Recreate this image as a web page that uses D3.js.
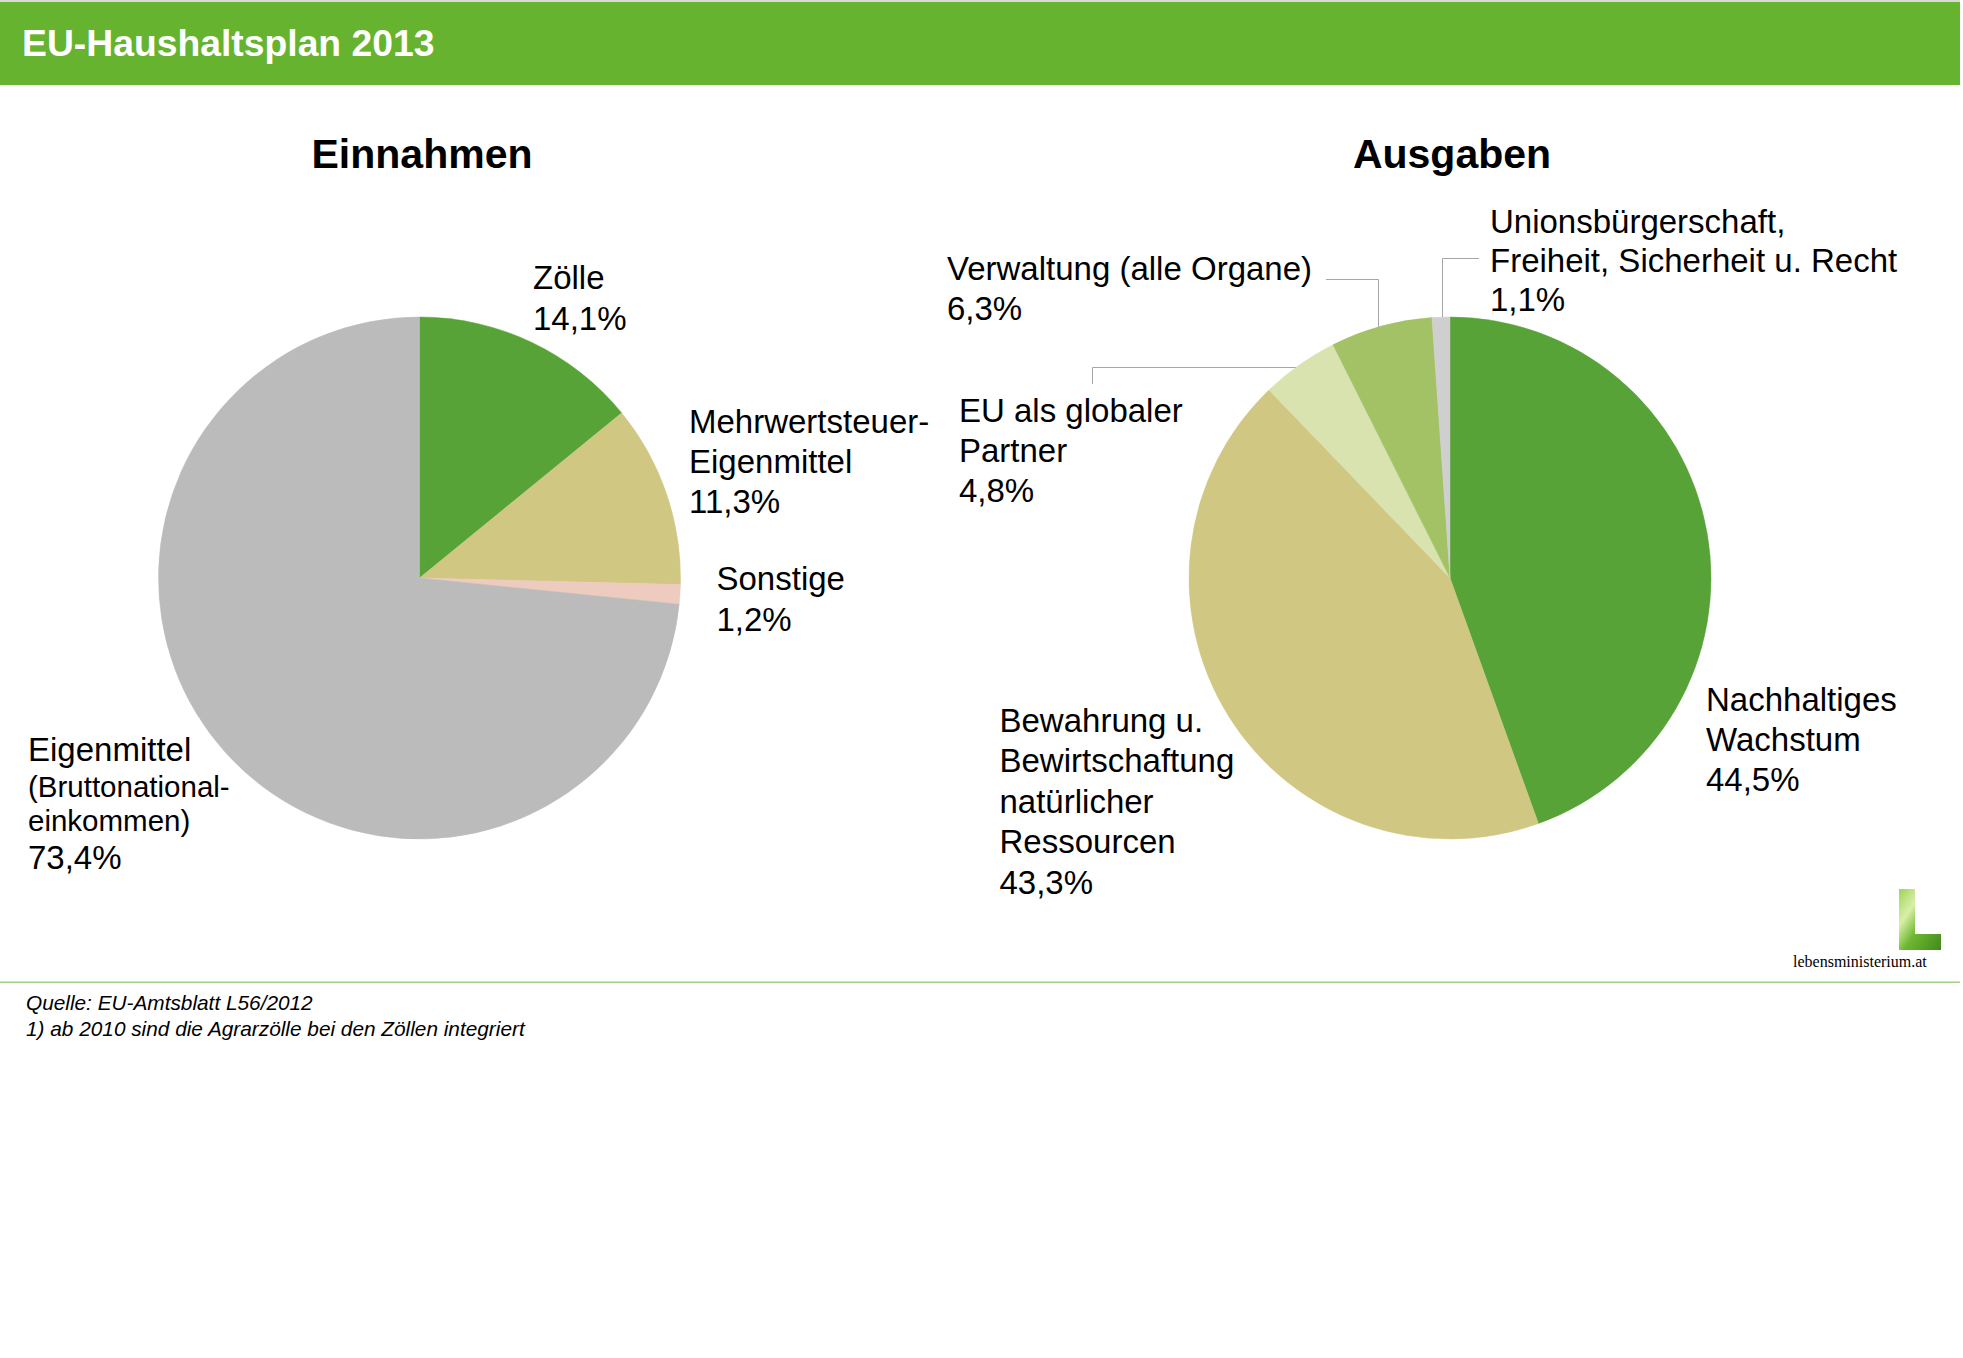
<!DOCTYPE html>
<html>
<head>
<meta charset="utf-8">
<script src="https://cdn.jsdelivr.net/npm/d3@7"></script>
<style>
  html, body { margin: 0; padding: 0; background: #ffffff; }
  svg { display: block; }
</style>
</head>
<body>
<svg id="chart" width="1963" height="1358" style="font-family: 'Liberation Sans', Arial, sans-serif;"></svg>
<script>
// ---------------- data ----------------
const chartTitle = "EU-Haushaltsplan 2013";
const pieTitles = ["Einnahmen", "Ausgaben"];

const einCategories = ["Zölle", "Mehrwertsteuer-Eigenmittel", "Sonstige", "Eigenmittel (Bruttonationaleinkommen)"];
const einValues = [14.1, 11.3, 1.2, 73.4];
const einLabelLines = [["Zölle"], ["Mehrwertsteuer-", "Eigenmittel"], ["Sonstige"], ["Eigenmittel", "(Bruttonational-", "einkommen)"]];

const ausCategories = ["Nachhaltiges Wachstum", "Bewahrung u. Bewirtschaftung natürlicher Ressourcen", "EU als globaler Partner", "Verwaltung (alle Organe)", "Unionsbürgerschaft, Freiheit, Sicherheit u. Recht"];
const ausValues = [44.5, 43.3, 4.8, 6.3, 1.1];
const ausLabelLines = [["Nachhaltiges", "Wachstum"], ["Bewahrung u.", "Bewirtschaftung", "natürlicher", "Ressourcen"], ["EU als globaler", "Partner"], ["Verwaltung (alle Organe)"], ["Unionsbürgerschaft,", "Freiheit, Sicherheit u. Recht"]];

const footnotes = ["Quelle: EU-Amtsblatt L56/2012", "1) ab 2010 sind die Agrarzölle bei den Zöllen integriert"];
const logoText = "lebensministerium.at";

// ---------------- styles / layout ----------------
const einColors = ["#57a337", "#d0c782", "#eecbbf", "#bbbbbb"];
const ausColors = ["#57a337", "#d0c782", "#d9e3b0", "#a3c266", "#cfcfcf"];

const svg = d3.select("#chart");

// header
svg.append("rect").attr("x", 0).attr("y", 0).attr("width", 1960).attr("height", 2).attr("fill", "#d9d9d9");
svg.append("rect").attr("x", 0).attr("y", 2).attr("width", 1960).attr("height", 83).attr("fill", "#65b32e");
svg.append("text").attr("x", 22).attr("y", 56)
  .attr("font-size", 37.3).attr("font-weight", "bold").attr("fill", "#ffffff")
  .text(chartTitle);

const fmtPct = v => d3.format(".1f")(v).replace(".", ",") + "%";

const R = 261;
const pies = [
  { cx: 419.5, cy: 578, values: einValues, cats: einCategories, colors: einColors, title: pieTitles[0], titleX: 422 },
  { cx: 1450, cy: 578, values: ausValues, cats: ausCategories, colors: ausColors, title: pieTitles[1], titleX: 1452 }
];

const pieGen = d3.pie().sort(null).value(d => d).startAngle(0).endAngle(2 * Math.PI);
const arcGen = d3.arc().innerRadius(0).outerRadius(R);

pies.forEach(p => {
  svg.append("text").attr("x", p.titleX).attr("y", 168)
    .attr("text-anchor", "middle").attr("font-size", 41).attr("font-weight", "bold").attr("fill", "#000")
    .text(p.title);
  const g = svg.append("g").attr("transform", `translate(${p.cx},${p.cy})`);
  g.selectAll("path").data(pieGen(p.values)).join("path")
    .attr("d", arcGen)
    .attr("fill", (d, i) => p.colors[i])
    .attr("stroke", (d, i) => p.colors[i])
    .attr("stroke-width", 0.5);
});

// labels: layout only (x, baseline of first line, line spacing, font sizes per line)
const einLabelLayout = [
  { x: 533, y: 289, sizes: [33], lh: [40.5] },
  { x: 689, y: 432.5, sizes: [33, 33], lh: [40, 40] },
  { x: 716.5, y: 590, sizes: [33], lh: [40.5] },
  { x: 28, y: 761, sizes: [33, 29.5, 29.5], lh: [35.5, 34, 38] }
];
const ausLabelLayout = [
  { x: 1706, y: 710.5, sizes: [33, 33], lh: [40, 40] },
  { x: 999.5, y: 731.5, sizes: [33, 33, 33, 33], lh: [40.5, 40.5, 40.5, 40.5] },
  { x: 959, y: 422, sizes: [33, 33], lh: [40, 40] },
  { x: 947, y: 280, sizes: [33], lh: [39.5] },
  { x: 1490, y: 233, sizes: [33, 33], lh: [39, 39] }
];

function drawLabels(lines, values, layout) {
  lines.forEach((ls, i) => {
    const L = layout[i];
    const t = svg.append("text").attr("fill", "#000");
    let y = L.y;
    ls.forEach((line, j) => {
      t.append("tspan").attr("x", L.x).attr("y", y).attr("font-size", L.sizes[j]).text(line);
      y += L.lh[j];
    });
    t.append("tspan").attr("x", L.x).attr("y", y).attr("font-size", 33).text(fmtPct(values[i]));
  });
}
drawLabels(einLabelLines, einValues, einLabelLayout);
drawLabels(ausLabelLines, ausValues, ausLabelLayout);

// leader lines (end on the pie's rim)
const pA = pies[1];
const rimY = x => pA.cy - Math.sqrt(R * R - (x - pA.cx) * (x - pA.cx));
const rimX = y => pA.cx - Math.sqrt(R * R - (y - pA.cy) * (y - pA.cy));
const leader = svg.append("g").attr("fill", "none").attr("stroke", "#a6a6a6").attr("stroke-width", 1);
leader.append("path").attr("d", `M1326,279.5 H1378.5 V${rimY(1378.5)}`);
leader.append("path").attr("d", `M1479,258.5 H1442.5 V${rimY(1442.5)}`);
leader.append("path").attr("d", `M1092.5,384 V367.5 H${rimX(367.5)}`);

// footer rule + notes
svg.append("rect").attr("x", 0).attr("y", 981.5).attr("width", 1960).attr("height", 1.5).attr("fill", "#9fcf86");
footnotes.forEach((f, i) => {
  svg.append("text").attr("x", 26).attr("y", 1010 + i * 26)
    .attr("font-size", 20.8).attr("font-style", "italic").attr("fill", "#000").text(f);
});

// logo
const defs = svg.append("defs");
const grad = defs.append("linearGradient").attr("id", "leaf").attr("x1", "0").attr("y1", "0").attr("x2", "1").attr("y2", "1");
grad.append("stop").attr("offset", "0%").attr("stop-color", "#9fd25a");
grad.append("stop").attr("offset", "30%").attr("stop-color", "#d8f0a8");
grad.append("stop").attr("offset", "55%").attr("stop-color", "#6fb832");
grad.append("stop").attr("offset", "100%").attr("stop-color", "#3f8a1c");
svg.append("path").attr("d", "M1899,889 H1915 V934 H1941 V950 H1899 Z").attr("fill", "url(#leaf)");
svg.append("text").attr("x", 1793).attr("y", 967)
  .style("font-family", "'Liberation Serif', 'Times New Roman', serif").attr("font-size", 16).attr("fill", "#000")
  .text(logoText);
</script>
</body>
</html>
